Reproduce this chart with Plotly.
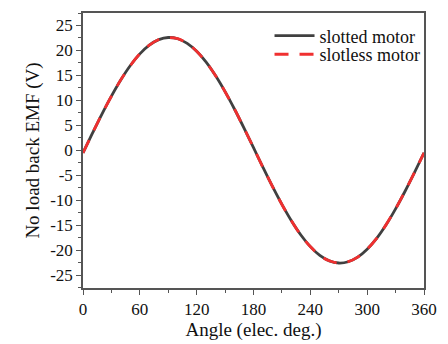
import plotly.graph_objects as go

angle = list(range(0, 361, 10))
half = [-0.51, 3.42, 7.25, 10.85, 14.13, 16.98, 19.31, 21.06, 22.16, 22.59,
        22.34, 21.41, 19.82, 17.65, 14.92, 11.74, 8.21, 4.43]
slotted = half + [-v for v in half] + [half[0]]
slotless = [-0.55, 3.40, 7.27, 10.83, 14.15, 16.96, 19.33, 21.05, 22.18, 22.58,
            22.36, 21.40, 19.84, 17.63, 14.94, 11.72, 8.23, 4.41,
            0.53, -3.44, -7.23, -10.86, -14.11, -16.99, -19.30, -21.08, -22.15, -22.60,
            -22.33, -21.42, -19.81, -17.66, -14.90, -11.75, -8.20, -4.44, -0.50]

xticks = [0, 60, 120, 180, 240, 300, 360]
yticks = list(range(-25, 26, 5))

fig = go.Figure()
fig.add_trace(go.Scatter(x=angle, y=slotted, mode="lines", name="slotted motor",
                         legend="legend", showlegend=True,
                         line=dict(color="#404040", width=2.8, shape="spline")))
fig.add_trace(go.Scatter(x=angle, y=slotless, mode="lines", name="slotless motor",
                         legend="legend2", showlegend=True,
                         line=dict(color="#f03030", width=2.8, dash="14px,11px", shape="spline")))

axis_common = dict(showline=True, linecolor="#555555", linewidth=1.5, mirror=True,
                   ticks="outside", ticklen=5, tickwidth=1.2, tickcolor="#555555",
                   showgrid=False, zeroline=False,
                   tickfont=dict(family="Liberation Serif", size=17, color="#111111"))

fig.update_xaxes(range=[0, 360], tickvals=xticks, ticktext=[str(t) for t in xticks],
                 minor=dict(dtick=30, tick0=0, ticks="outside", ticklen=3, tickcolor="#555555"),
                 title=dict(text="Angle (elec. deg.)", standoff=1,
                            font=dict(family="Liberation Serif", size=19, color="#111111")),
                 **axis_common)
fig.update_yaxes(range=[-27.6, 27.5], tickvals=yticks, ticktext=[str(t) for t in yticks],
                 minor=dict(dtick=2.5, tick0=0, ticks="outside", ticklen=3, tickcolor="#555555"),
                 title=dict(text="No load back EMF (V)", standoff=6,
                            font=dict(family="Liberation Serif", size=19, color="#111111")),
                 **axis_common)

leg_common = dict(xanchor="left", yanchor="middle", bgcolor="rgba(0,0,0,0)", borderwidth=0,
                  font=dict(family="Liberation Serif", size=18, color="#111111"),
                  itemwidth=40, visible=True)
fig.update_layout(width=448, height=344, margin=dict(l=83, r=17, t=11, b=54),
                  plot_bgcolor="white", paper_bgcolor="white", showlegend=True,
                  legend=dict(x=0.547, y=0.917, **leg_common),
                  legend2=dict(x=0.547, y=0.849, **leg_common))
fig.write_html("out.html")
